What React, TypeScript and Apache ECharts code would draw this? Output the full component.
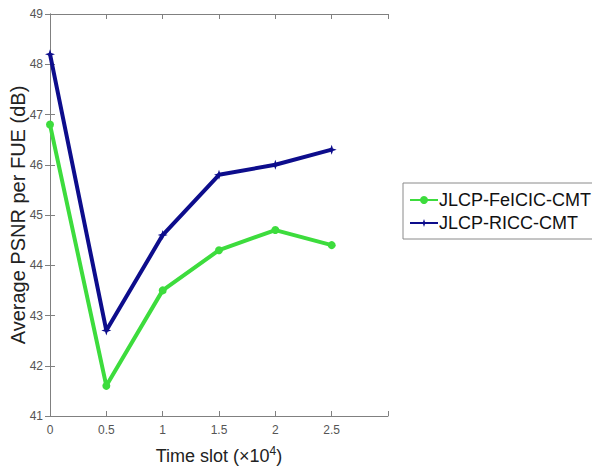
import React, { useEffect, useRef } from "react";
import * as echarts from "echarts";

const timeSlots = [0, 0.5, 1, 1.5, 2, 2.5];
const feicicValues = [46.8, 41.6, 43.5, 44.3, 44.7, 44.4];
const riccValues = [48.2, 42.7, 44.6, 45.8, 46.0, 46.3];
const seriesNames = ["JLCP-FeICIC-CMT", "JLCP-RICC-CMT"];

const FONT = "Liberation Sans, Arial, sans-serif";
const STAR = "path://M0,-10 L2.5,-2.5 L10,0 L2.5,2.5 L0,10 L-2.5,2.5 L-10,0 L-2.5,-2.5 Z";

export default function App() {
  const ref = useRef<HTMLDivElement>(null);
  useEffect(() => {
    if (!ref.current) return;
    const chart = echarts.init(ref.current, undefined, { renderer: "svg" });
    const axisLine = { show: true, lineStyle: { color: "#808080", width: 1 } };
    const tick = { show: true, inside: true, length: 5, lineStyle: { color: "#808080" } };
    chart.setOption({
      animation: false,
      backgroundColor: "#ffffff",
      grid: { left: 50, top: 14, width: 338, height: 402, containLabel: false, outerBoundsMode: "none" },
      legend: {
        orient: "vertical",
        left: 403,
        top: 183,
        width: 200,
        itemWidth: 28,
        itemHeight: 10,
        itemGap: 5,
        padding: [8, 20, 7, 6],
        borderColor: "#8a8a8a",
        borderWidth: 1,
        textStyle: { fontFamily: FONT, fontSize: 18, color: "#111", padding: [0, 0, 0, -4] },
        data: seriesNames,
      },
      xAxis: [
        {
          type: "value",
          min: 0,
          max: 3,
          interval: 0.5,
          position: "bottom",
          name: "Time slot (×10{sup|4})",
          nameLocation: "middle",
          nameGap: 29,
          nameMoveOverlap: false,
          nameTextStyle: {
            fontFamily: FONT,
            fontSize: 18,
            color: "#222",
            rich: { sup: { fontFamily: FONT, fontSize: 12, color: "#222", verticalAlign: "top", padding: [0, 0, 9, 0] } },
          },
          axisLine,
          axisTick: tick,
          splitLine: { show: false },
          axisLabel: {
            fontFamily: FONT,
            fontSize: 12,
            color: "#555",
            margin: 8,
            formatter: (v: number) => (v >= 3 ? "" : String(v)),
          },
        },
        {
          type: "value",
          min: 0,
          max: 3,
          interval: 0.5,
          position: "top",
          axisLine,
          axisTick: tick,
          splitLine: { show: false },
          axisLabel: { show: false },
        },
      ],
      yAxis: [
        {
          type: "value",
          min: 41,
          max: 49,
          interval: 1,
          position: "left",
          name: "Average PSNR per FUE (dB)",
          nameLocation: "middle",
          nameGap: 22,
          nameMoveOverlap: false,
          nameTextStyle: { fontFamily: FONT, fontSize: 20, color: "#222" },
          axisLine,
          axisTick: tick,
          splitLine: { show: false },
          axisLabel: { fontFamily: FONT, fontSize: 12, color: "#555", margin: 7 },
        },
        {
          type: "value",
          min: 41,
          max: 49,
          interval: 1,
          position: "right",
          axisLine,
          axisTick: tick,
          splitLine: { show: false },
          axisLabel: { show: false },
        },
      ],
      series: [
        {
          name: seriesNames[0],
          type: "line",
          data: timeSlots.map((t, i) => [t, feicicValues[i]]),
          color: "#3ddc3d",
          lineStyle: { width: 4, color: "#3ddc3d" },
          symbol: "circle",
          symbolSize: 8,
          itemStyle: { color: "#3ddc3d" },
        },
        {
          name: seriesNames[1],
          type: "line",
          data: timeSlots.map((t, i) => [t, riccValues[i]]),
          color: "#0d0d8c",
          lineStyle: { width: 4, color: "#0d0d8c" },
          symbol: STAR,
          symbolSize: 10,
          itemStyle: { color: "#0d0d8c" },
        },
      ],
    });
    return () => chart.dispose();
  }, []);
  return <div ref={ref} style={{ position: "fixed", left: 0, top: 0, width: 592, height: 470 }} />;
}
